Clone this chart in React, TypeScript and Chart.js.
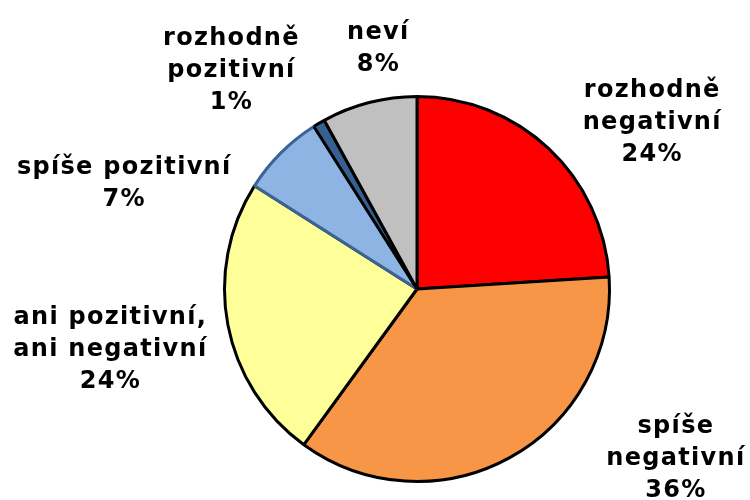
import React, { useEffect, useRef } from "react";
import { Chart, registerables } from "chart.js";

Chart.register(...registerables);

const categories = [
  "rozhodně negativní",
  "spíše negativní",
  "ani pozitivní, ani negativní",
  "spíše pozitivní",
  "rozhodně pozitivní",
  "neví",
];
const values = [24, 36, 24, 7, 1, 8];
const labelLines = [
  ["rozhodně", "negativní", "24%"],
  ["spíše", "negativní", "36%"],
  ["ani pozitivní,", "ani negativní", "24%"],
  ["spíše pozitivní", "7%"],
  ["rozhodně", "pozitivní", "1%"],
  ["neví", "8%"],
];
const colors = ["#FF0000", "#F79646", "#FFFF99", "#8DB4E2", "#366092", "#C0C0C0"];
const borderColors = ["#000000", "#000000", "#000000", "#3A6496", "#000000", "#000000"];

// label block centre offsets, in multiples of the pie radius
const labelOffsets = [
  [1.222, -0.861],
  [1.345, 0.88],
  [-1.593, 0.314],
  [-1.521, -0.546],
  [-0.964, -1.134],
  [-0.201, -1.25],
];

const labelPlugin = {
  id: "outerLabels",
  afterDraw(chart: any) {
    const meta = chart.getDatasetMeta(0);
    const arc = meta.data[0];
    if (!arc) return;
    const { x, y, outerRadius } = arc.getProps(["x", "y", "outerRadius"], true);
    const ctx = chart.ctx;
    ctx.save();
    ctx.font = "bold 24px 'DejaVu Sans'";
    (ctx as any).letterSpacing = "1.3px";
    ctx.fillStyle = "#000";
    ctx.textAlign = "center";
    ctx.textBaseline = "middle";
    const lh = 32;
    labelLines.forEach((lines, i) => {
      const cx = x + labelOffsets[i][0] * outerRadius;
      const cy = y + labelOffsets[i][1] * outerRadius;
      const top = cy - ((lines.length - 1) * lh) / 2;
      lines.forEach((t, j) => ctx.fillText(t, cx, top + j * lh));
    });
    ctx.restore();
  },
};

export default function App() {
  const ref = useRef<HTMLCanvasElement>(null);
  useEffect(() => {
    document.body.style.margin = "0";
    const chart = new Chart(ref.current!, {
      type: "pie",
      data: {
        labels: categories,
        datasets: [
          {
            data: values,
            backgroundColor: colors,
            borderColor: borderColors,
            borderWidth: 3,
          },
        ],
      },
      options: {
        animation: false,
        responsive: false,
        layout: { padding: { top: 95, bottom: 17, left: 100, right: 16 } },
        plugins: { legend: { display: false }, tooltip: { enabled: false } },
      },
      plugins: [labelPlugin],
    });
    return () => chart.destroy();
  }, []);
  return (
    <div style={{ width: 750, height: 500, background: "#fff" }}>
      <canvas ref={ref} width={750} height={500} />
    </div>
  );
}
